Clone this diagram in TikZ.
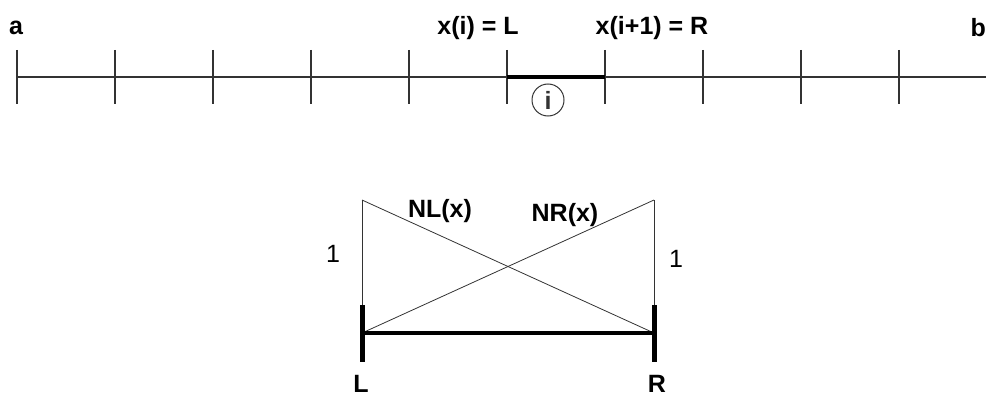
\documentclass[tikz,border=0pt]{standalone}
\usepackage{fontspec}
\setmainfont{Liberation Sans}
\usepackage{tikz}
\usetikzlibrary{calc}

\begin{document}
\begin{tikzpicture}[x=1pt,y=-1pt,
    thinline/.style={line width=1.3pt, black!80},
    lbl/.style={inner sep=0pt, font=\fontsize{25}{28}\selectfont\bfseries},
    num/.style={inner sep=0pt, font=\fontsize{25}{28}\selectfont}]
        \useasboundingbox (0,0) rectangle (986,396);

        % grid on [a,b]
        \foreach \i in {0,...,9}{
          \coordinate (t\i) at (17+98*\i,50);
          \coordinate (u\i) at (17+98*\i,104);
          \draw[thinline] (t\i) -- (u\i);
        }
        \coordinate (a0) at (17,77);
        \coordinate (b0) at (986,77);
        \coordinate (xl) at (507,77);
        \coordinate (xr) at (605,77);
        \draw[thinline] (a0) -- (b0);
        \draw[line width=3.5pt] (xl) -- (xr);

        \node(A) at (16,28) [lbl]{a};
        \node(B) at (986,28) [lbl, anchor=east]{b};
        \node(XL) at (478,28) [lbl]{x(i) = L};
        \node(XR) at (652,28) [lbl]{x(i+1) = R};
        \node(I) at (548,100) [circle, draw, thinline, line width=1pt, minimum size=32pt, inner sep=0pt, font=\fontsize{25}{28}\selectfont\bfseries]{i};

        % hat functions on element i
        \coordinate (lt) at (362,200);
        \coordinate (rt) at (654,200);
        \coordinate (lm) at (362,333);
        \coordinate (rm) at (654,333);
        \coordinate (lu) at (362,305);
        \coordinate (ld) at (362,362);
        \coordinate (ru) at (654,305);
        \coordinate (rd) at (654,362);

        \draw[black!80, line width=1pt] (lt) -- (lu);
        \draw[black!80, line width=1pt] (rt) -- (ru);
        \draw[black!80, line width=0.8pt] (lt) -- (rm);
        \draw[black!80, line width=0.8pt] (rt) -- (lm);
        \draw[line width=5pt] (lu) -- (ld);
        \draw[line width=5pt] (ru) -- (rd);
        \draw[line width=4pt] (lm) -- (rm);

        \node(NL) at (440,211) [lbl]{NL(x)};
        \node(NR) at (565,215) [lbl]{NR(x)};
        \node(O1) at (333,254) [num]{1};
        \node(O2) at (676,259) [num]{1};
        \node(L) at (361,384) [lbl]{L};
        \node(R) at (657,384) [lbl]{R};

      \end{tikzpicture}
\end{document}
